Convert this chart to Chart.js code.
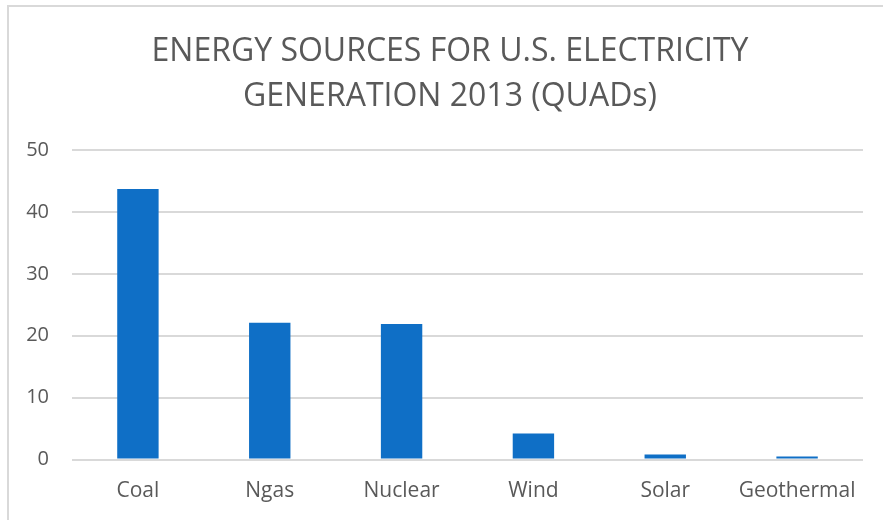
<!DOCTYPE html>
<html>
<head>
<meta charset="utf-8">
<script src="https://cdn.jsdelivr.net/npm/chart.js@4/dist/chart.umd.min.js"></script>
<style>
  html, body { margin: 0; padding: 0; background: #ffffff; }
  #wrap { position: relative; width: 883px; height: 520px; overflow: hidden; }
  #frame { position: absolute; left: 7px; top: 5px; width: 900px; height: 600px;
           border-left: 2px solid #d9d9d9; border-top: 2px solid #d9d9d9; box-sizing: border-box; }
  canvas { position: absolute; left: 0; top: 0; }
</style>
</head>
<body>
<div id="wrap">
  <div id="frame"></div>
  <canvas id="c" width="883" height="520"></canvas>
</div>
<script>
const categories = ["Coal", "Ngas", "Nuclear", "Wind", "Solar", "Geothermal"];
const quads = [43.7, 22.1, 21.9, 4.2, 0.8, 0.5];
const titleLines = ["ENERGY SOURCES FOR U.S. ELECTRICITY", "GENERATION 2013 (QUADs)"];
const yMin = 0, yMax = 50, yStep = 10;

const FONT = "'Open Sans', 'Noto Sans', sans-serif";
const TEXT = "#595959";

// Centre the title over the whole chart frame (as in the reference), not just the plot.
const titleSpan = {
  id: "titleSpan",
  afterLayout(chart) {
    const t = chart.titleBlock;
    if (t) { t.left = 0; t.right = 900; t.width = 900; }
  }
};

new Chart(document.getElementById("c"), {
  type: "bar",
  data: {
    labels: categories,
    datasets: [{
      data: quads,
      backgroundColor: "#0F6FC6",
      borderWidth: 0,
      barPercentage: 0.314,
      categoryPercentage: 1.0
    }]
  },
  options: {
    responsive: false,
    animation: false,
    layout: { padding: { left: 0, right: 20, top: 0, bottom: 0 } },
    plugins: {
      legend: { display: false },
      tooltip: { enabled: false },
      title: {
        display: true,
        text: titleLines,
        color: TEXT,
        font: { family: FONT, size: 32, weight: "normal", lineHeight: 45 / 32 },
        padding: { top: 29, bottom: 31 }
      }
    },
    scales: {
      x: {
        grid: { display: false, drawTicks: false },
        border: { display: false },
        ticks: { color: TEXT, font: { family: FONT, size: 21 }, padding: 19, maxRotation: 0 },
        afterFit: (s) => { s.height = 60.5; }
      },
      y: {
        min: yMin, max: yMax,
        grid: { color: "#d9d9d9", lineWidth: 2, drawTicks: false },
        border: { display: false },
        ticks: { stepSize: yStep, color: TEXT, font: { family: FONT, size: 20 }, padding: 23 },
        afterFit: (s) => { s.width = 72; }
      }
    }
  },
  plugins: [titleSpan]
});
</script>
</body>
</html>
